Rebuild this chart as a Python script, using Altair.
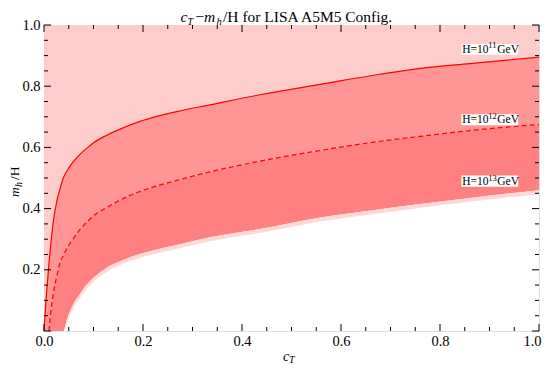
import altair as alt
import pandas as pd

# ---- data ----
ct = [0.0, 0.004, 0.008, 0.01, 0.0135, 0.019, 0.026, 0.032, 0.039, 0.046, 0.054, 0.06,
      0.073, 0.093, 0.1, 0.127, 0.16, 0.194, 0.23, 0.268, 0.335, 0.436, 0.558, 0.679,
      0.76, 0.86, 1.0]
solid = [0.0, 0.10, 0.18, 0.22, 0.28, 0.36, 0.425, 0.463, 0.50, 0.522, 0.542, 0.555,
         0.578, 0.606, 0.615, 0.640, 0.664, 0.685, 0.702, 0.717, 0.739, 0.772, 0.806, 0.839,
         0.858, 0.874, 0.895]
dashed = [None, None, None, 0.0, 0.058, 0.125, 0.18, 0.222, 0.247, 0.27, 0.29, 0.304,
          0.332, 0.366, 0.376, 0.404, 0.433, 0.456, 0.475, 0.492, 0.52, 0.555, 0.59, 0.62,
          0.636, 0.655, 0.675]
lower = [0.0, 0.0, 0.0, 0.0, 0.0, 0.0, 0.0, 0.0, 0.0, 0.036, 0.07, 0.09,
         0.122, 0.163, 0.174, 0.207, 0.232, 0.252, 0.267, 0.281, 0.306, 0.333, 0.371, 0.398,
         0.415, 0.435, 0.46]
fringe = [0.0, 0.0, 0.0, 0.0, 0.0, 0.0, 0.0, 0.0, 0.0, 0.022, 0.057, 0.077,
          0.109, 0.150, 0.161, 0.194, 0.220, 0.239, 0.254, 0.268, 0.293, 0.320, 0.358, 0.385,
          0.402, 0.422, 0.447]

x_major = [0.0, 0.2, 0.4, 0.6, 0.8, 1.0]
x_minor = [0.05, 0.1, 0.15, 0.25, 0.3, 0.35, 0.45, 0.5, 0.55, 0.65, 0.7, 0.75, 0.85, 0.9, 0.95]
y_labels = [0.2, 0.4, 0.6, 0.8, 1.0]

# annotation boxes (data coords) and label texts
lab_exp = ["11", "12", "13"]
lab_x0 = [0.843, 0.843, 0.843]
lab_x1 = [0.958, 0.958, 0.958]
lab_y0 = [0.903, 0.672, 0.471]
lab_y1 = [0.938, 0.708, 0.508]
lab_base = [0.909, 0.679, 0.477]

SERIF = "Liberation Serif"
W, H = 495, 306

df = pd.DataFrame({"ct": ct, "solid": solid, "dashed": dashed, "lower": lower,
                   "fringe": fringe})
df["dashed0"] = df["dashed"].fillna(0.0)
df["top"] = 1.0
dfd = df.dropna(subset=["dashed"])

xs = alt.Scale(domain=[0, 1], nice=False, zero=False)
ys = alt.Scale(domain=[0, 1], nice=False, zero=False)

xaxis = alt.Axis(values=x_major, format=".1f", ticks=False, domain=False, grid=False,
                 labelFont=SERIF, labelFontSize=14.5, labelPadding=3, labelFlush=False,
                 labelOffset={"expr": "datum.value >= 1 ? -7 : 0"},
                 labelOverlap=False, labelColor="black", title=None)
yaxis = alt.Axis(values=y_labels, format=".1f", ticks=False, domain=False, grid=False,
                 labelFont=SERIF, labelFontSize=14.5, labelPadding=4, labelFlush=False,
                 labelOverlap=False, labelColor="black", title=None)


def X(f):
    return alt.X(f, scale=xs, axis=xaxis)


def Y(f):
    return alt.Y(f, scale=ys, axis=yaxis)


base = alt.Chart(df)
top_area = base.mark_area(color="#FFCCCC", interpolate="monotone").encode(
    x=X("ct:Q"), y=Y("solid:Q"), y2="top:Q")
mid_area = base.mark_area(color="#FF9595", interpolate="monotone").encode(
    x=X("ct:Q"), y=Y("dashed0:Q"), y2="solid:Q")
low_area = base.mark_area(color="#FF8080", interpolate="monotone").encode(
    x=X("ct:Q"), y=Y("lower:Q"), y2="dashed0:Q")
fr_area = base.mark_area(color="#FFD8D8", interpolate="monotone").encode(
    x=X("ct:Q"), y=Y("fringe:Q"), y2="lower:Q")
solid_line = base.mark_line(color="#FF0000", strokeWidth=1.2, interpolate="monotone").encode(
    x=X("ct:Q"), y=Y("solid:Q"))
dashed_line = alt.Chart(dfd).mark_line(color="#FF0000", strokeWidth=1.2, strokeDash=[5, 3],
                                       interpolate="monotone").encode(
    x=X("ct:Q"), y=Y("dashed:Q"))

# frame ticks (inward)
tick_layers = []
for vals, ln in ((x_major, 7), (x_minor, 4)):
    d = pd.DataFrame({"v": vals})
    tick_layers.append(alt.Chart(d).mark_rule(color="black", strokeWidth=1).encode(
        x=X("v:Q"), y=alt.value(H), y2=alt.value(H - ln)))
    tick_layers.append(alt.Chart(d).mark_rule(color="black", strokeWidth=1).encode(
        x=X("v:Q"), y=alt.value(0), y2=alt.value(ln)))
    tick_layers.append(alt.Chart(d).mark_rule(color="black", strokeWidth=1).encode(
        y=Y("v:Q"), x=alt.value(0), x2=alt.value(ln)))
    tick_layers.append(alt.Chart(d).mark_rule(color="black", strokeWidth=1).encode(
        y=Y("v:Q"), x=alt.value(W), x2=alt.value(W - ln)))

# labels
ldf = pd.DataFrame({"x0": lab_x0, "x1": lab_x1, "y0": lab_y0, "y1": lab_y1,
                    "yb": lab_base, "e": lab_exp})
lab_box = alt.Chart(ldf).mark_rect(color="white").encode(
    x=X("x0:Q"), x2="x1:Q", y=Y("y0:Q"), y2="y1:Q")
lab_h = alt.Chart(ldf).mark_text(text="H=10", font=SERIF, fontSize=11.5, align="left",
                                 baseline="alphabetic", color="black", dx=1).encode(
    x=X("x0:Q"), y=Y("yb:Q"))
lab_e = alt.Chart(ldf).mark_text(font=SERIF, fontSize=8.5, align="left",
                                 baseline="alphabetic", color="black", dx=27, dy=-4.5).encode(
    x=X("x0:Q"), y=Y("yb:Q"), text="e:N")
lab_g = alt.Chart(ldf).mark_text(text="GeV", font=SERIF, fontSize=11.5, align="left",
                                 baseline="alphabetic", color="black", dx=36).encode(
    x=X("x0:Q"), y=Y("yb:Q"))

one = pd.DataFrame({"a": [0]})


def txt(s, x, y, size, italic=False, angle=0):
    return alt.Chart(one).mark_text(
        text=s, font=SERIF, fontSize=size, fontStyle="italic" if italic else "normal",
        align="left", baseline="alphabetic", angle=angle, color="black").encode(
        x=alt.value(x), y=alt.value(y))


texts = [
    # title
    txt("c", 136.5, -3, 15.5, True),
    txt("T", 143.3, -0.5, 10.5, True),
    txt("\u2212", 151.5, -3, 15.5),
    txt("m", 160, -3, 15.5, True),
    txt("h", 172.5, -0.5, 10.5, True),
    txt("/H for LISA A5M5 Config.", 179, -3, 15.5),
    # x title
    txt("c", 239, 336, 14, True),
    txt("T", 245, 338, 10, True),
    # y title
    txt("m", -25, 172, 13.5, True, 270),
    txt("h", -22.5, 162, 10, True, 270),
    txt("/H", -25, 155, 13.5, False, 270),
]

chart = alt.layer(top_area, mid_area, low_area, fr_area, solid_line, dashed_line,
                  *tick_layers, lab_box, lab_h, lab_e, lab_g, *texts).properties(
    width=W, height=H,
    autosize=alt.AutoSizeParams(type="none"),
    padding={"left": 36, "top": 17, "right": 3, "bottom": 34},
).configure_view(stroke="black", strokeWidth=1).configure(background="white")

chart.save("out.html", embed_options={"renderer": "svg", "actions": False})
